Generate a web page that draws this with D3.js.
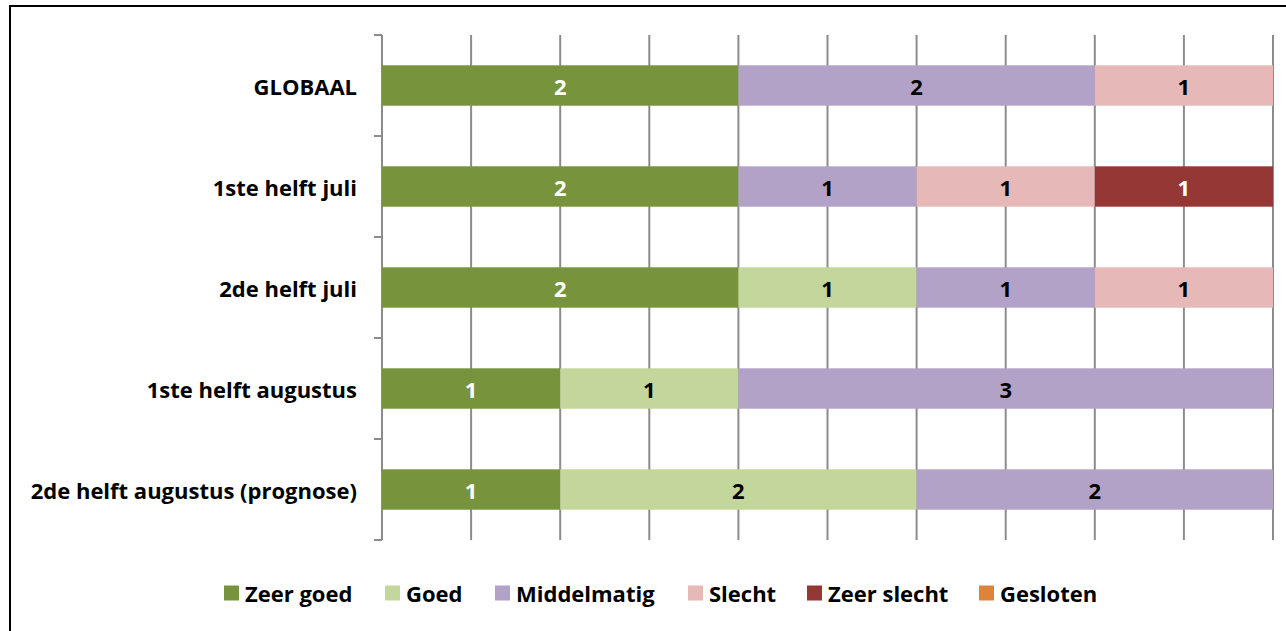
<!DOCTYPE html>
<html lang="nl">
  <head>
    <meta charset="utf-8">
    <title>Beoordeling per periode</title>
    <script src="https://d3js.org/d3.v7.min.js"></script>
    <style type="text/css">
      html, body {
        margin: 0;
        padding: 0;
        background: #fff;
      }
      #chart svg {
        display: block;
      }
      text {
        font-family: "Open Sans", Lato, sans-serif;
        font-weight: bold;
      }
    </style>
  </head>
  <body>
    <div id="chart"></div>
  </body>
</html>
<script type="text/javascript">
  const width = 1286,
    height = 631;

  // periodes (van boven naar onder)
  const periods = ["GLOBAAL", "1ste helft juli", "2de helft juli", "1ste helft augustus", "2de helft augustus (prognose)"];
  const categories = ["Zeer goed", "Goed", "Middelmatig", "Slecht", "Zeer slecht", "Gesloten"];
  const colors = ["#77933c", "#c3d69b", "#b3a2c7", "#e6b9b8", "#953735", "#e0833a"];
  const labelColors = ["#fff", "#000", "#000", "#000", "#fff", "#000"];

  // aantallen per categorie
  const zeerGoed    = [2, 2, 2, 1, 1];
  const goed        = [0, 0, 1, 1, 2];
  const middelmatig = [2, 1, 1, 3, 2];
  const slecht      = [1, 1, 1, 0, 0];
  const zeerSlecht  = [0, 1, 0, 0, 0];
  const gesloten    = [0, 0, 0, 0, 0];

  const xTicks = d3.range(0, 5.01, 0.5);

  const series = [zeerGoed, goed, middelmatig, slecht, zeerSlecht, gesloten];
  const rows = periods.map(function(p, i) {
    const r = { period: p };
    categories.forEach(function(c, j) { r[c] = series[j][i]; });
    return r;
  });
  const stacked = d3.stack().keys(categories)(rows);

  const margin = { top: 35, left: 382, right: 13, bottom: 91 };

  const svg = d3.select("#chart").append("svg")
    .attr("width", width)
    .attr("height", height);

  // kader
  svg.append("path")
    .attr("d", "M10,640 L10,6 L1300,6")
    .attr("fill", "none")
    .attr("stroke", "#000")
    .attr("stroke-width", 2);

  const x = d3.scaleLinear()
    .domain([0, 5])
    .range([margin.left, width - margin.right]);

  const y = d3.scaleBand()
    .domain(periods)
    .range([margin.top, height - margin.bottom])
    .paddingInner(0.6)
    .paddingOuter(0.3);

  // rasterlijnen
  svg.append("g")
    .selectAll("line")
    .data(xTicks)
    .enter().append("line")
      .attr("x1", function(d) { return x(d); })
      .attr("x2", function(d) { return x(d); })
      .attr("y1", margin.top)
      .attr("y2", height - margin.bottom)
      .attr("stroke", "#8c8c8c")
      .attr("stroke-width", 2);

  // y-as met tickmarks tussen de categorieen
  const yAxis = svg.append("g");
  yAxis.append("line")
    .attr("x1", margin.left).attr("x2", margin.left)
    .attr("y1", margin.top).attr("y2", height - margin.bottom)
    .attr("stroke", "#8c8c8c")
    .attr("stroke-width", 2);
  yAxis.selectAll("line.tick")
    .data(d3.range(periods.length + 1))
    .enter().append("line")
      .attr("class", "tick")
      .attr("x1", margin.left - 8)
      .attr("x2", margin.left)
      .attr("y1", function(d) { return margin.top + d * (height - margin.bottom - margin.top) / periods.length; })
      .attr("y2", function(d) { return margin.top + d * (height - margin.bottom - margin.top) / periods.length; })
      .attr("stroke", "#8c8c8c")
      .attr("stroke-width", 2);

  yAxis.selectAll("text")
    .data(periods)
    .enter().append("text")
      .attr("x", margin.left - 25)
      .attr("y", function(d) { return y(d) + y.bandwidth() / 2; })
      .attr("text-anchor", "end")
      .attr("dominant-baseline", "central")
      .style("font-size", "22px")
      .text(function(d) { return d; });

  // balken
  const layers = svg.append("g")
    .selectAll("g")
    .data(stacked)
    .enter().append("g")
      .attr("fill", function(d, i) { return colors[i]; });

  layers.selectAll("rect")
    .data(function(d) { return d.filter(function(s) { return s[1] > s[0]; }); })
    .enter().append("rect")
      .attr("x", function(d) { return x(d[0]); })
      .attr("width", function(d) { return x(d[1]) - x(d[0]); })
      .attr("y", function(d) { return y(d.data.period); })
      .attr("height", y.bandwidth());

  layers.each(function(layer, i) {
    d3.select(this).selectAll("text")
      .data(layer.filter(function(s) { return s[1] > s[0]; }))
      .enter().append("text")
        .attr("x", function(d) { return (x(d[0]) + x(d[1])) / 2; })
        .attr("y", function(d) { return y(d.data.period) + y.bandwidth() / 2; })
        .attr("text-anchor", "middle")
        .attr("dominant-baseline", "central")
        .attr("fill", labelColors[i])
        .style("font-size", "22px")
        .text(function(d) { return d[1] - d[0]; });
  });

  // legenda
  const legendX = [224, 385, 495, 688, 807, 979];
  const legend = svg.append("g")
    .selectAll("g")
    .data(categories)
    .enter().append("g")
      .attr("transform", function(d, i) { return "translate(" + legendX[i] + ",593)"; });

  legend.append("rect")
    .attr("x", 0)
    .attr("y", -7.5)
    .attr("width", 15)
    .attr("height", 15)
    .attr("fill", function(d, i) { return colors[i]; });

  legend.append("text")
    .attr("x", 21)
    .attr("y", 0)
    .attr("dominant-baseline", "central")
    .style("font-size", "22px")
    .text(function(d) { return d; });
</script>
